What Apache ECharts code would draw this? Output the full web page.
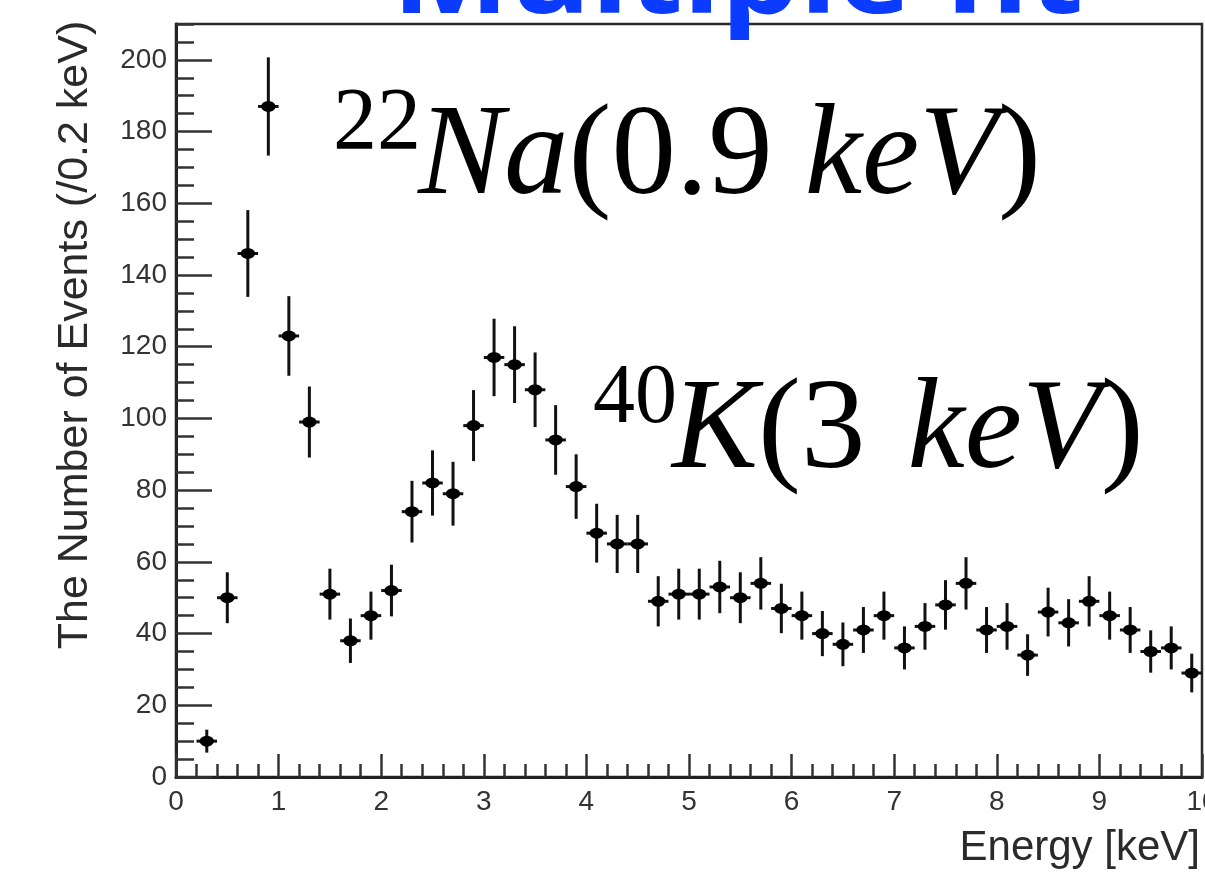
<!DOCTYPE html>
<html>
<head>
<meta charset="utf-8">
<title>Energy spectrum</title>
<script src="https://cdn.jsdelivr.net/npm/echarts@6/dist/echarts.min.js"></script>
<style>
  html, body { margin: 0; padding: 0; background: #ffffff; }
  #chart { width: 1205px; height: 873px; }
</style>
</head>
<body>
<div id="chart"></div>
<script>
// Bin centres (keV), 0.2 keV wide bins
const energy = [0.3, 0.5, 0.7, 0.9, 1.1, 1.3, 1.5, 1.7, 1.9, 2.1,
                2.3, 2.5, 2.7, 2.9, 3.1, 3.3, 3.5, 3.7, 3.9, 4.1,
                4.3, 4.5, 4.7, 4.9, 5.1, 5.3, 5.5, 5.7, 5.9, 6.1,
                6.3, 6.5, 6.7, 6.9, 7.1, 7.3, 7.5, 7.7, 7.9, 8.1,
                8.3, 8.5, 8.7, 8.9, 9.1, 9.3, 9.5, 9.7, 9.9];
// Counts per bin
const counts = [10, 50, 146, 187, 123, 99, 51, 38, 45, 52,
                74, 82, 79, 98, 117, 115, 108, 94, 81, 68,
                65, 65, 49, 51, 51, 53, 50, 54, 47, 45,
                40, 37, 41, 45, 36, 42, 48, 54, 41, 42,
                34, 46, 43, 49, 45, 41, 35, 36, 29];
// Statistical errors per bin
const errors = [3.2, 7.1, 12.1, 13.7, 11.1, 9.9, 7.1, 6.2, 6.7, 7.2,
                8.6, 9.1, 8.9, 9.9, 10.8, 10.7, 10.4, 9.7, 9.0, 8.2,
                8.1, 8.1, 7.0, 7.1, 7.1, 7.3, 7.1, 7.3, 6.9, 6.7,
                6.3, 6.1, 6.4, 6.7, 6.0, 6.5, 6.9, 7.3, 6.4, 6.5,
                5.8, 6.8, 6.6, 7.0, 6.7, 6.4, 5.9, 6.0, 5.4];
const binHalfWidth = 0.1;

// Axis ranges and tick steps
const xRange = [0, 10];
const xMajorStep = 1;
const xMinorStep = 0.2;
const yRange = [0, 210];
const yMajorStep = 20;
const yMinorStep = 5;

const titleText = 'Multiple fit';
const xTitle = 'Energy [keV]';
const yTitle = 'The Number of Events (/0.2 keV)';

const points = energy.map((e, i) => [e, counts[i], errors[i]]);

const chart = echarts.init(document.getElementById('chart'), null, { renderer: 'canvas' });

const tickFont = { fontFamily: 'Liberation Sans', fontSize: 28, color: '#333333' };
const lineCol = '#222222';
const tickLine = { color: '#333333', width: 2.5 };
const serif = 'Liberation Serif';
function peakRich(gap) {
  return {
    i: { fontFamily: serif, fontStyle: 'italic', fontSize: 129, color: '#000' },
    n: { fontFamily: serif, fontSize: 129, color: '#000' },
    s: { fontFamily: serif, fontSize: 129, color: '#000', width: gap }
  };
}

const option = {
  backgroundColor: '#ffffff',
  animation: false,
  grid: {
    left: 176, top: 24, width: 1026, height: 753,
    outerBoundsMode: 'none',
    containLabel: false,
    show: true, borderColor: '#2a2a2a', borderWidth: 2.5, backgroundColor: 'transparent'
  },
  xAxis: [
    {
      type: 'value', min: xRange[0], max: xRange[1], interval: xMajorStep,
      position: 'bottom',
      axisLine: { show: true, lineStyle: { color: lineCol, width: 3 } },
      axisTick: { show: true, inside: true, length: 23, lineStyle: tickLine },
      axisLabel: Object.assign({ margin: 11 }, tickFont),
      splitLine: { show: false }
    },
    {
      type: 'value', min: xRange[0], max: xRange[1], interval: xMinorStep,
      position: 'bottom',
      axisLine: { show: false },
      axisTick: { show: true, inside: true, length: 13, lineStyle: tickLine },
      axisLabel: { show: false },
      splitLine: { show: false }
    }
  ],
  yAxis: [
    {
      type: 'value', min: yRange[0], max: yRange[1], interval: yMajorStep,
      position: 'left',
      axisLine: { show: true, lineStyle: { color: lineCol, width: 3 } },
      axisTick: { show: true, inside: true, length: 36, lineStyle: tickLine },
      axisLabel: Object.assign({ margin: 9, showMaxLabel: false }, tickFont),
      splitLine: { show: false }
    },
    {
      type: 'value', min: yRange[0], max: yRange[1], interval: yMinorStep,
      position: 'left',
      axisLine: { show: false },
      axisTick: { show: true, inside: true, length: 18, lineStyle: tickLine },
      axisLabel: { show: false },
      splitLine: { show: false }
    }
  ],
  graphic: [
    {
      type: 'text', x: 392, y: 37,
      style: {
        text: titleText, fill: '#0b3bff',
        font: 'bold 112px "Open Sans"',
        align: 'left', verticalAlign: 'bottom'
      },
      scaleX: 1.11, originX: 0, originY: 0,
      z: 10
    },
    {
      type: 'text', x: 75, y: 335, rotation: Math.PI / 2,
      style: {
        text: yTitle, fill: '#2a2a2a',
        font: '43px "Liberation Sans"',
        align: 'center', verticalAlign: 'middle'
      }
    },
    {
      type: 'text', x: 1200, y: 848,
      style: {
        text: xTitle, fill: '#2a2a2a',
        font: '42px "Liberation Sans"',
        align: 'right', verticalAlign: 'middle'
      }
    },
    // 22Na peak label
    {
      type: 'text', x: 333, y: 125,
      style: {
        text: '22', fill: '#000',
        font: '88px "Liberation Serif"',
        align: 'left', verticalAlign: 'middle'
      }
    },
    {
      type: 'text', x: 418, y: 159,
      style: {
        text: '{i|Na}{n|(0.9}{s| }{i|keV}{n|)}',
        align: 'left', verticalAlign: 'middle',
        rich: peakRich(32)
      }
    },
    // 40K peak label
    {
      type: 'text', x: 593, y: 400,
      style: {
        text: '40', fill: '#000',
        font: '84px "Liberation Serif"',
        align: 'left', verticalAlign: 'middle'
      }
    },
    {
      type: 'text', x: 672, y: 433,
      style: {
        text: '{i|K}{n|(3}{s| }{i|keV}{n|)}',
        align: 'left', verticalAlign: 'middle',
        rich: peakRich(42)
      }
    }
  ],
  series: [
    {
      type: 'custom',
      xAxisIndex: 0, yAxisIndex: 0,
      data: points,
      renderItem: function (params, api) {
        const x = api.value(0), y = api.value(1), e = api.value(2);
        const c = api.coord([x, y]);
        const hi = api.coord([x, y + e]);
        const lo = api.coord([x, y - e]);
        const l = api.coord([x - binHalfWidth, y]);
        const r = api.coord([x + binHalfWidth, y]);
        const stroke = { stroke: '#111111', lineWidth: 3 };
        return {
          type: 'group',
          children: [
            { type: 'line', shape: { x1: c[0], y1: hi[1], x2: c[0], y2: lo[1] }, style: stroke },
            { type: 'line', shape: { x1: l[0], y1: c[1], x2: r[0], y2: c[1] }, style: stroke },
            { type: 'circle', x: c[0], y: c[1], scaleX: 1.3, shape: { cx: 0, cy: 0, r: 5.5 }, style: { fill: '#000000' } }
          ]
        };
      },
      z: 5
    }
  ]
};

chart.setOption(option);
</script>
</body>
</html>
